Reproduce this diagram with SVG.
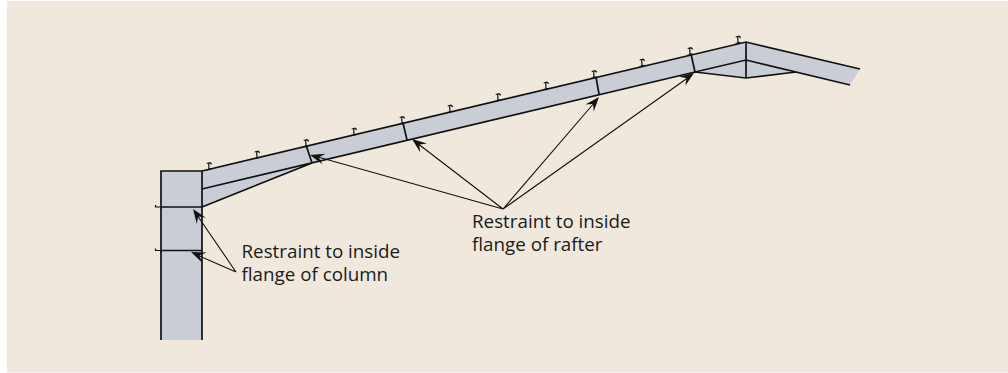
<svg xmlns="http://www.w3.org/2000/svg" width="1008" height="373" viewBox="0 0 1008 373">
<style>
.s{stroke:#111;stroke-width:1.7;fill:none}
.p{stroke:#111;stroke-width:1.2;fill:none}
.l{stroke:#111;stroke-width:1.1;fill:none}
.a{fill:#111;stroke:none}
.f{fill:#c9ced6;stroke:none}
text{font-family:"Open Sans","Noto Sans",sans-serif;font-size:18.8px;fill:#1a1a1a}
</style>
<defs>
<path id="pur" d="M0 0.500L-0.300 -6.500M-2.300 -6L1 -6.800L2.800 -5.300M-2.500 0.500L2.500 -0.700" class="p"/>
<path id="head" class="a" d="M0 0L-14.500 -5.500L-9.500 -0.500V0.500L-14.500 5.500Z"/>
</defs>
<rect x="7" y="1" width="1001" height="371.700" fill="#f0e8dd"/>
<g id="frame">
<path class="f" d="M161 171H202L746 42L860 69L850 85L796 72L746 78L695 72L312 163L202 207V340H161Z"/>
<path class="s" d="M202 340V171H161V340M202 171L746 42L860 69M202 189L695 72L746 60L850 85M202 207L312 163M695 72L746 78L796 72M746 42V78M161 207H202M161 250.500H202M306 145L312 163M403 123L407 140M596 77L599 94M691 54L695 72"/>
<path class="p" d="M161 207H155.500V205M161 207V209M161 250.500H155.500V248.500M161 250.500V252.500"/>
</g>
<g id="purlins">
<use href="#pur" x="209" y="169.500"/>
<use href="#pur" x="257" y="158"/>
<use href="#pur" x="306" y="146.500"/>
<use href="#pur" x="354" y="135"/>
<use href="#pur" x="402" y="123.500"/>
<use href="#pur" x="450" y="112"/>
<use href="#pur" x="498" y="100.500"/>
<use href="#pur" x="546" y="89"/>
<use href="#pur" x="594" y="77.500"/>
<use href="#pur" x="642" y="66"/>
<use href="#pur" x="690" y="54.500"/>
<use href="#pur" x="738" y="43"/>
</g>
<g id="connectors">
<path class="l" d="M503 209L318 157M503 209L417 143M503 209L595 102M503 209L689 77M236 272L197 215M236 272L197 255"/>
<use href="#head" transform="translate(310 155) rotate(195.700)"/>
<use href="#head" transform="translate(412 139) rotate(217.500)"/>
<use href="#head" transform="translate(599 97) rotate(-49.300)"/>
<use href="#head" transform="translate(694 73) rotate(-35)"/>
<use href="#head" transform="translate(193 209) rotate(235)"/>
<use href="#head" transform="translate(191 252) rotate(203)"/>
</g>
<g id="label-rafter"><text x="472" y="228.300">Restraint to inside<tspan x="472" y="251">flange of rafter</tspan></text></g>
<g id="label-column"><text x="241.500" y="258.300">Restraint to inside<tspan x="241.500" y="281">flange of column</tspan></text></g>
</svg>
